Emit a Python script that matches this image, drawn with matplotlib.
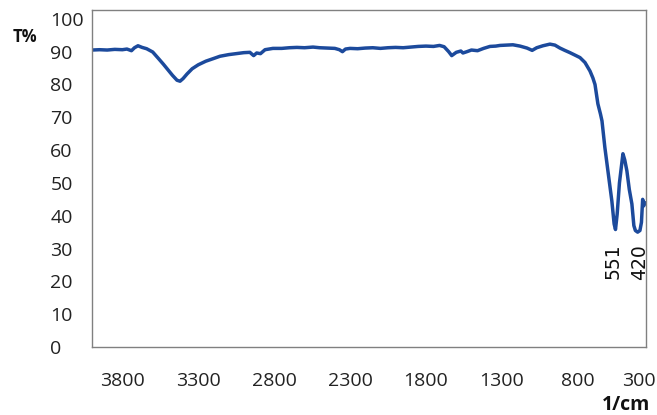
import matplotlib
matplotlib.use('Agg')
from matplotlib import pyplot as plt

# FTIR spectrum (wavenumber in 1/cm, transmittance in %)
wavenumber = [4000, 3950, 3900, 3850, 3800, 3770, 3740, 3720, 3697, 3670,
              3640, 3600, 3560, 3530, 3500, 3470, 3440, 3420, 3400, 3374,
              3340, 3300, 3250, 3200, 3157, 3100, 3050, 3000, 2960, 2935,
              2915, 2890, 2860, 2808, 2750, 2700, 2650, 2600, 2544, 2500,
              2450, 2400, 2370, 2350, 2330, 2300, 2250, 2200, 2150, 2100,
              2050, 2000, 1950, 1900, 1850, 1800, 1750, 1710, 1680, 1650,
              1630, 1600, 1570, 1556, 1530, 1500, 1460, 1420, 1378, 1340,
              1312, 1270, 1227, 1180, 1134, 1100, 1070, 1029, 983, 950,
              917, 885, 851, 820, 785, 752, 719, 700, 686, 667,
              650, 640, 621, 601, 575, 560, 551, 540, 525, 502,
              490, 476, 460, 443, 430, 420, 405, 390, 380, 372,
              365, 360]
transmittance = [90.5, 90.6, 90.5, 90.7, 90.6, 90.8, 90.3, 91.2, 91.8, 91.3,
                 90.9, 89.9, 87.8, 86.2, 84.5, 82.8, 81.3, 81.0, 81.8, 83.2,
                 84.8, 86.0, 87.1, 87.9, 88.6, 89.1, 89.4, 89.7, 89.8, 88.8,
                 89.6, 89.4, 90.6, 91.0, 91.0, 91.2, 91.3, 91.2, 91.4, 91.2,
                 91.1, 91.0, 90.6, 90.0, 90.8, 91.0, 90.9, 91.1, 91.2, 91.0,
                 91.2, 91.3, 91.2, 91.4, 91.6, 91.7, 91.6, 91.9, 91.5, 90.0,
                 88.8, 89.8, 90.2, 89.6, 90.0, 90.5, 90.3, 91.0, 91.6, 91.7,
                 91.9, 92.0, 92.1, 91.7, 91.1, 90.4, 91.2, 91.8, 92.3, 92.0,
                 91.1, 90.4, 89.7, 89.0, 88.2, 86.7, 84.1, 82.0, 80.0, 74.1,
                 71.0, 68.9, 60.8, 53.7, 44.5, 37.5, 35.8, 40.5, 50.0, 58.9,
                 57.0, 53.7, 48.0, 43.6, 37.0, 35.5, 35.0, 35.5, 38.0, 45.0,
                 43.0, 44.0]

peak_labels = ['551', '420']
peak_label_pos = [(567, 26), (392, 26)]

x_ticks = [3800, 3300, 2800, 2300, 1800, 1300, 800, 400]
x_tick_labels = ['3800', '3300', '2800', '2300', '1800', '1300', '800', '300']
y_ticks = list(range(0, 101, 10))

plt.rcParams['font.family'] = ['Open Sans', 'DejaVu Sans']

fig = plt.figure(figsize=(6.57, 4.15), dpi=100)
ax = fig.add_axes([92 / 657, 1 - 347 / 415, 554 / 657, 337 / 415])

ax.plot(wavenumber, transmittance, color='#1c4a9c', linewidth=2.5,
        solid_joinstyle='round')

ax.set_xlim(4000, 350)
ax.set_ylim(0, 102.7)

ax.set_xticks(x_ticks)
ax.set_xticklabels(x_tick_labels)
ax.set_yticks(y_ticks)
ax.tick_params(axis='both', length=0, labelsize=14, colors='#222222')
ax.tick_params(axis='x', pad=18)
ax.tick_params(axis='y', pad=30)
for lab in ax.get_yticklabels():
    lab.set_horizontalalignment('left')

for s in ax.spines.values():
    s.set_color('#808080')
    s.set_linewidth(1.0)

for text, (xp, yp) in zip(peak_labels, peak_label_pos):
    ax.text(xp, yp, text, rotation=90, ha='center', va='center',
            fontsize=13.5, family=['DejaVu Sans'], color='#111111')

fig.text(25 / 657, 1 - 37 / 415, 'T%', fontsize=12, fontweight='bold',
         ha='center', va='center', color='#111111')
fig.text(626 / 657, 1 - 405 / 415, '1/cm', fontsize=14, fontweight='bold',
         ha='center', va='center', color='#111111')

fig.savefig('out.png', dpi=100)
